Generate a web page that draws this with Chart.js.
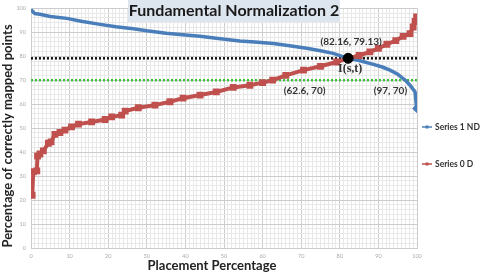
<!DOCTYPE html>
<html>
<head>
<meta charset="utf-8">
<script src="https://cdn.jsdelivr.net/npm/chart.js@4.4.0/dist/chart.umd.min.js"></script>
<style>
  html, body { margin: 0; padding: 0; background: #fff; }
  #wrap { width: 482px; height: 274px; position: relative; }
</style>
</head>
<body>
<div id="wrap"><canvas id="chart"></canvas></div>
<script>
// values
const seriesNdX = [0, 0.5, 1, 2.3, 5, 9.3, 13, 17.9, 22, 26.5, 30, 35, 40, 43.8, 48, 52.4, 54.1, 58, 62.8, 67, 71.4, 75, 78.3, 82.16, 85, 88.7, 91, 93, 95, 96, 97, 98.2, 99.5, 99.9];
const seriesNdY = [99.5, 98.5, 97.8, 97.5, 96.6, 95.8, 94.6, 93.3, 92.3, 91.5, 90.6, 89.6, 88.9, 88.3, 87.5, 86.7, 86.4, 85.9, 85.3, 84.4, 83.3, 82.3, 81.2, 79.13, 78.2, 76.6, 75.5, 74.2, 72.5, 71.2, 70, 67.9, 65.1, 58.2];

const seriesDX = [0.3, 0.6, 1.5, 1.7, 2.3, 3.2, 4.5, 5.2, 6.2, 7.5, 8.8, 10.5, 12.3, 15.7, 19.2, 20.9, 23.5, 24.4, 27.8, 32.1, 36, 39.4, 43.8, 48, 52.4, 56.7, 60, 62.6, 66, 70.6, 75, 79.2, 82.16, 85, 87.8, 90, 92.2, 94.5, 96.4, 98.2, 99, 99.5, 99.9];
const seriesDY = [22, 31.8, 32.2, 38.3, 39.2, 40.5, 43.7, 44.3, 47.4, 48.2, 49.2, 50.5, 51.7, 52.6, 53.6, 54.7, 55.4, 57.1, 58.5, 59.6, 61, 62.5, 63.8, 65.1, 67, 67.9, 69, 70, 72, 74.2, 75.8, 77.6, 79.13, 80.3, 81.8, 83.3, 85, 86.5, 88.3, 89.4, 92.2, 94.5, 96.4];

const seriesNames = ['Series 1 ND', 'Series 0 D'];
const intersection = [82.16, 79.13];
const thresholdY = 70;
const callouts = [
  { text: '(82.16, 79.13)', x: 82.16, y: 79.13 },
  { text: '(62.6, 70)', x: 62.6, y: 70 },
  { text: '(97, 70)', x: 97, y: 70 }
];
const xRange = [0, 100];
const yRange = [0, 100];

const BLUE = '#4a7ebb';
const RED = '#c0504d';

function pts(xs, ys) {
  return xs.map((x, i) => ({ x: x, y: ys[i] }));
}

// title box, axis titles, callouts and legend
const decorPlugin = {
  id: 'decor',
  afterDraw(chart) {
    const ctx = chart.ctx;
    const xs = chart.scales.x, ys = chart.scales.y;
    ctx.save();

    // callout labels
    ctx.fillStyle = '#333';
    ctx.font = 'bold 10px Lato';
    ctx.textAlign = 'center';
    ctx.textBaseline = 'middle';
    ctx.fillText(callouts[0].text, xs.getPixelForValue(callouts[0].x) + 3, ys.getPixelForValue(callouts[0].y) - 17);
    ctx.fillText(callouts[1].text, xs.getPixelForValue(callouts[1].x) + 32, ys.getPixelForValue(callouts[1].y) + 11);
    ctx.fillText(callouts[2].text, xs.getPixelForValue(callouts[2].x) - 15, ys.getPixelForValue(callouts[2].y) + 11);
    ctx.font = 'bold 12px "Liberation Serif"';
    ctx.fillText('I(s,t)', xs.getPixelForValue(intersection[0]) + 2, ys.getPixelForValue(intersection[1]) + 11);

    // title box
    ctx.fillStyle = '#dde5ef';
    ctx.fillRect(128, 0, 212, 22);
    ctx.fillStyle = '#1a1a1a';
    ctx.font = 'bold 16px Lato';
    ctx.fillText('Fundamental Normalization 2', 234, 11);

    // axis titles
    ctx.fillStyle = '#222';
    ctx.font = 'bold 13px Lato';
    ctx.fillText('Placement Percentage', 212, 266);
    ctx.save();
    ctx.translate(8, 136);
    ctx.rotate(-Math.PI / 2);
    ctx.fillText('Percentage of correctly mapped points', 0, 0);
    ctx.restore();

    // legend
    const items = [
      { name: seriesNames[0], color: BLUE, y: 127 },
      { name: seriesNames[1], color: RED, y: 164 }
    ];
    ctx.textAlign = 'left';
    ctx.font = 'bold 8.5px Lato';
    items.forEach(it => {
      ctx.strokeStyle = it.color;
      ctx.lineWidth = 1.5;
      ctx.beginPath();
      ctx.moveTo(422, it.y);
      ctx.lineTo(432, it.y);
      ctx.stroke();
      ctx.fillStyle = it.color;
      ctx.fillRect(425.5, it.y - 1.5, 3, 3);
      ctx.fillStyle = '#333';
      ctx.fillText(it.name, 435, it.y);
    });
    ctx.restore();
  }
};

const gridColor = c => (c.tick && Math.round(c.tick.value) % 10 === 0) ? '#cccccc' : '#e8e8e8';

new Chart(document.getElementById('chart'), {
  type: 'line',
  data: {
    datasets: [
      {
        label: 'threshold',
        data: pts(xRange, [intersection[1], intersection[1]]),
        borderColor: '#111',
        borderWidth: 2.5,
        borderDash: [2, 2],
        pointRadius: 0,
        order: 4
      },
      {
        label: 'seventy',
        data: pts(xRange, [thresholdY, thresholdY]),
        borderColor: '#3ec43e',
        borderWidth: 2.5,
        borderDash: [2, 2],
        pointRadius: 0,
        order: 3
      },
      {
        label: seriesNames[0],
        data: pts(seriesNdX, seriesNdY),
        borderColor: BLUE,
        backgroundColor: BLUE,
        borderWidth: 3.5,
        pointRadius: c => (c.dataIndex === seriesNdX.length - 1 ? 2 : 0),
        pointStyle: 'rectRot',
        order: 2
      },
      {
        label: seriesNames[1],
        data: pts(seriesDX, seriesDY),
        borderColor: RED,
        backgroundColor: RED,
        borderWidth: 4,
        pointRadius: 2,
        pointStyle: 'rect',
        order: 1
      },
      {
        label: 'I(s,t)',
        data: [{ x: intersection[0], y: intersection[1] }],
        borderColor: '#000',
        backgroundColor: '#000',
        pointRadius: 5,
        order: 0
      }
    ]
  },
  options: {
    responsive: true,
    maintainAspectRatio: false,
    animation: false,
    layout: { padding: { top: 8, right: 65, bottom: 0, left: 0 } },
    plugins: { legend: { display: false }, tooltip: { enabled: false } },
    scales: {
      x: {
        type: 'linear',
        min: xRange[0],
        max: xRange[1],
        afterFit: s => { s.height = 26; },
        grid: { color: gridColor, lineWidth: 1, drawTicks: false },
        border: { color: '#cccccc' },
        ticks: {
          stepSize: 1,
          maxTicksLimit: 200,
          autoSkip: false,
          maxRotation: 0,
          padding: 5,
          color: '#aaa',
          font: { size: 5.5, family: 'Lato' },
          callback: v => (v % 10 === 0 ? v : '')
        }
      },
      y: {
        type: 'linear',
        min: yRange[0],
        max: yRange[1],
        afterFit: s => { s.width = 31; },
        grid: { color: gridColor, lineWidth: 1, drawTicks: false },
        border: { color: '#cccccc' },
        ticks: {
          stepSize: 2,
          maxTicksLimit: 200,
          autoSkip: false,
          padding: 5,
          color: '#aaa',
          font: { size: 5.5, family: 'Lato' },
          callback: v => (v % 10 === 0 ? v : '')
        }
      }
    }
  },
  plugins: [decorPlugin]
});
</script>
</body>
</html>
